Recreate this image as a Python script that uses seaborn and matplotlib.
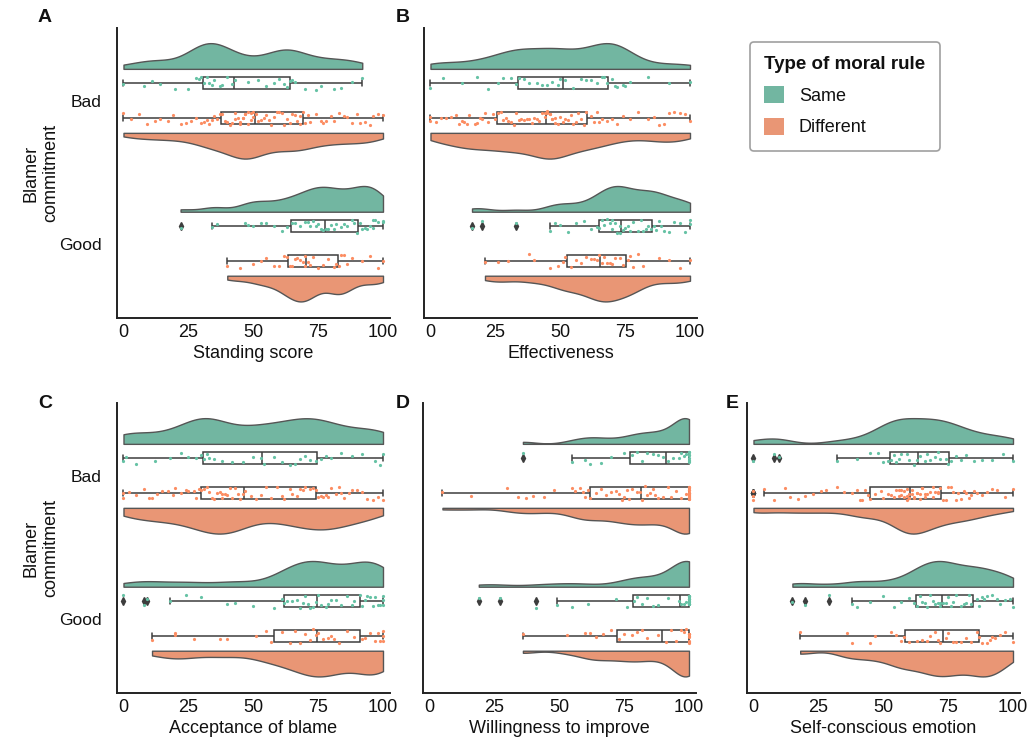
import numpy as np
import pandas as pd
import matplotlib
matplotlib.use("Agg")
import matplotlib.pyplot as plt
import seaborn as sns
from matplotlib.transforms import Affine2D
from matplotlib.patches import Patch

# ---------------- data ----------------
commitment = ["Bad", "Good"]
rule_types = ["Same", "Different"]
measures = ["Standing score", "Effectiveness", "Acceptance of blame",
            "Willingness to improve", "Self-conscious emotion"]
panel_letters = ["A", "B", "C", "D", "E"]
x_ticks = [0, 25, 50, 75, 100]

standing_bad_same = [0, 8, 11, 14, 20, 25, 28, 29, 30, 31, 32, 33, 34, 35, 37, 38, 40, 42,
                     43, 48, 52, 55, 58, 60, 62, 63, 64, 65, 66, 70, 74, 76, 81, 84, 88, 92]
standing_bad_diff = [0, 3, 6, 9, 12, 14, 17, 19, 22, 24, 26, 28, 30, 31, 32, 33, 34, 35, 36, 37,
                     38, 39, 40, 41, 42, 43, 43, 44, 45, 45, 46, 46, 47, 47, 48, 48, 49, 49, 50, 50,
                     51, 52, 53, 54, 55, 56, 57, 58, 59, 60, 61, 62, 63, 64, 65, 66, 67, 68, 68, 69,
                     70, 71, 72, 74, 76, 77, 78, 80, 81, 83, 85, 86, 88, 90, 91, 93, 95, 96, 98, 100]
standing_good_same = [22, 34, 36, 47, 48, 50, 53, 55, 58, 61, 63, 65, 66, 68, 70, 71, 72, 73, 74, 75, 76, 77,
                      78, 79, 80, 81, 82, 84, 85, 86, 88, 89, 90, 91, 92, 93, 94, 95, 96, 96, 97, 98, 100, 100]
standing_good_diff = [40, 45, 50, 53, 55, 58, 60, 62, 63, 64, 65, 66, 67, 68, 69, 70, 70,
                      71, 72, 73, 75, 77, 79, 81, 82, 83, 84, 85, 86, 88, 92, 95, 98, 100]

effect_bad_same = [0, 5, 12, 18, 22, 26, 28, 31, 33, 34, 36, 38, 41, 43, 45, 47, 49, 50,
                   52, 55, 58, 60, 62, 64, 66, 67, 68, 70, 71, 72, 74, 75, 77, 84, 92, 100]
effect_bad_diff = [0, 0, 2, 4, 6, 8, 10, 11, 12, 13, 14, 15, 17, 18, 19, 20, 21, 22, 24, 25,
                   26, 27, 28, 29, 30, 31, 32, 33, 34, 35, 36, 37, 38, 39, 40, 41, 42, 43, 44, 44,
                   45, 45, 46, 46, 47, 47, 48, 48, 49, 50, 51, 52, 53, 54, 55, 56, 57, 58, 59, 60,
                   62, 63, 64, 65, 66, 68, 70, 72, 74, 77, 80, 84, 86, 88, 90, 92, 94, 96, 98, 100]
effect_good_same = [16, 20, 33, 46, 48, 50, 53, 56, 59, 62, 64, 65, 66, 67, 68, 69, 70, 70, 71, 72, 73, 73,
                    74, 75, 76, 77, 78, 80, 81, 82, 83, 84, 85, 86, 87, 88, 89, 90, 92, 94, 96, 98, 100, 100]
effect_good_diff = [21, 26, 30, 38, 40, 46, 49, 51, 52, 54, 56, 58, 60, 62, 63, 64, 65,
                    66, 67, 68, 69, 70, 71, 73, 74, 76, 77, 78, 80, 82, 88, 92, 96, 100]

accept_bad_same = [0, 1, 5, 12, 18, 22, 25, 28, 30, 31, 32, 33, 35, 38, 42, 46, 50, 53,
                   54, 58, 61, 64, 66, 68, 70, 72, 74, 76, 78, 80, 84, 88, 92, 97, 99, 100]
accept_bad_diff = [0, 0, 2, 5, 8, 10, 11, 13, 15, 17, 19, 20, 22, 24, 25, 27, 28, 29,
                   30, 31, 32, 33, 34, 35, 36, 37, 38, 38, 39, 40, 41, 42, 43, 44, 45, 46,
                   47, 49, 51, 53, 55, 57, 59, 61, 62, 64, 65, 67, 68, 69, 70, 72, 73, 74,
                   75, 76, 77, 78, 79, 80, 82, 83, 84, 85, 87, 88, 90, 92, 94, 96, 98, 100]
accept_good_same = [0, 8, 9, 18, 24, 30, 40, 43, 50, 58, 61, 62, 63, 65, 67, 68, 69, 70, 71, 72, 73, 74,
                    75, 76, 78, 79, 80, 82, 84, 86, 88, 89, 91, 92, 93, 94, 95, 96, 97, 98, 99, 100, 100, 100]
accept_good_diff = [11, 20, 20, 27, 37, 40, 51, 55, 57, 61, 64, 66, 68, 70, 72, 73, 74,
                    75, 77, 79, 80, 81, 83, 86, 89, 92, 93, 95, 97, 98, 99, 100, 100, 100]

improve_bad_same = [36, 55, 60, 62, 66, 70, 75, 78, 80, 82, 84, 86, 88, 90,
                    92, 94, 96, 97, 98, 99, 100, 100, 100, 100, 100, 100, 100, 100]
improve_bad_diff = [5, 16, 30, 34, 37, 40, 44, 48, 55, 56, 58, 59, 60, 61,
                    62, 64, 66, 68, 70, 72, 73, 74, 75, 76, 77, 78, 80, 81,
                    82, 83, 84, 85, 86, 87, 88, 90, 92, 93, 95, 97, 99, 100,
                    100, 100, 100, 100, 100, 100, 100, 100, 100, 100, 100, 100, 100, 100]
improve_good_same = [19, 27, 41, 49, 55, 61, 72, 76, 79, 80, 82, 84, 86, 88, 92, 96,
                     97, 98, 99, 100, 100, 100, 100, 100, 100, 100, 100, 100, 100, 100, 100, 100]
improve_good_diff = [36, 53, 60, 62, 64, 67, 70, 73, 75, 78, 80, 82, 84, 88,
                     91, 93, 95, 97, 98, 99, 100, 100, 100, 100, 100, 100, 100, 100]

emotion_bad_same = [0, 8, 10, 32, 40, 45, 48, 50, 52, 53, 54, 55, 56, 57, 59, 60, 62, 63,
                    64, 66, 67, 68, 70, 71, 72, 74, 75, 76, 78, 80, 82, 85, 88, 92, 96, 100]
emotion_bad_diff = [0, 0, 0, 4, 8, 12, 14, 17, 20, 23, 26, 28, 32, 35, 38, 40, 41, 42, 43, 44,
                    45, 47, 49, 50, 52, 53, 54, 55, 56, 56, 57, 57, 58, 58, 59, 59, 59, 60, 60, 60,
                    61, 61, 62, 62, 63, 63, 64, 64, 65, 65, 66, 66, 67, 68, 69, 69, 70, 71, 71, 72,
                    73, 74, 75, 76, 77, 78, 79, 80, 81, 82, 83, 84, 85, 86, 88, 90, 92, 94, 97, 100]
emotion_good_same = [15, 20, 29, 38, 40, 45, 50, 54, 57, 60, 62, 63, 64, 65, 66, 67, 68, 69, 70, 71, 72, 72,
                     73, 74, 75, 76, 77, 78, 80, 81, 82, 83, 84, 86, 87, 88, 89, 90, 92, 94, 95, 97, 99, 100]
emotion_good_diff = [18, 36, 38, 45, 47, 53, 55, 57, 58, 60, 63, 65, 67, 68, 70, 71, 72,
                     74, 75, 77, 78, 80, 82, 84, 86, 87, 88, 90, 91, 92, 93, 95, 97, 100]

panel_data = [
    (standing_bad_same, standing_bad_diff, standing_good_same, standing_good_diff),
    (effect_bad_same, effect_bad_diff, effect_good_same, effect_good_diff),
    (accept_bad_same, accept_bad_diff, accept_good_same, accept_good_diff),
    (improve_bad_same, improve_bad_diff, improve_good_same, improve_good_diff),
    (emotion_bad_same, emotion_bad_diff, emotion_good_same, emotion_good_diff),
]


def to_frame(groups):
    rows = []
    labels = [("Bad", "Same"), ("Bad", "Different"), ("Good", "Same"), ("Good", "Different")]
    for vals, (c, r) in zip(groups, labels):
        for v in vals:
            rows.append({"commitment": c, "rule": r, "value": v})
    return pd.DataFrame(rows)


# ---------------- style ----------------
sns.set_theme(style="white")
plt.rcParams["font.family"] = ["Liberation Sans", "DejaVu Sans"]
plt.rcParams["text.color"] = "#111111"
plt.rcParams["axes.labelcolor"] = "#111111"
np.random.seed(3)

set2 = sns.color_palette("Set2")
pal = {"Same": set2[0], "Different": set2[1]}
box_pal = {"Same": "white", "Different": "white"}
line_col = "#3d3d3d"

W, H = 1034, 740
fig = plt.figure(figsize=(W / 100, H / 100), dpi=100)

ax_px = [(117, 28), (424, 28), (117, 403), (423, 403), (747, 403)]
ax_w, ax_h = 273, 290
letter_px = [(45, 17), (403, 17), (45, 403), (403, 403), (732, 403)]

VIOL_OFF = 0.224
BOX_OFF = 0.122

for i, (measure, groups) in enumerate(zip(measures, panel_data)):
    x0, y0 = ax_px[i]
    ax = fig.add_axes([x0 / W, 1 - (y0 + ax_h) / H, ax_w / W, ax_h / H])
    df = to_frame(groups)

    n0 = len(ax.collections)
    sns.violinplot(data=df, x="value", y="commitment", hue="rule",
                   order=commitment, hue_order=rule_types, palette=pal,
                   split=True, inner=None, cut=0, density_norm="width",
                   width=0.36, gap=0, bw_adjust=0.55, linewidth=1.0,
                   linecolor="#555555", legend=False, ax=ax)
    for coll in ax.collections[n0:]:
        fc = coll.get_facecolor()[0]
        off = -VIOL_OFF if fc[1] > fc[0] else VIOL_OFF
        coll.set_transform(Affine2D().translate(0, off) + ax.transData)

    sns.boxplot(data=df, x="value", y="commitment", hue="rule",
                order=commitment, hue_order=rule_types, palette=box_pal,
                width=2 * 2 * BOX_OFF, gap=0.656, dodge=True,
                linecolor=line_col, linewidth=1.1, fliersize=4,
                flierprops=dict(marker="d", markerfacecolor=line_col,
                                markeredgecolor=line_col),
                legend=False, ax=ax)

    for r, off in zip(rule_types, (-BOX_OFF, BOX_OFF)):
        n1 = len(ax.collections)
        sns.stripplot(data=df[df["rule"] == r], x="value", y="commitment",
                      order=commitment, color=pal[r], size=2.3, jitter=0.048,
                      linewidth=0, ax=ax, zorder=4)
        for coll in ax.collections[n1:]:
            coll.set_offsets(coll.get_offsets() + np.array([0, off]))

    ax.set_xlim(-2.5, 102.7)
    ax.set_ylim(1.52, -0.51)
    ax.set_xticks(x_ticks)
    ax.set_xticklabels([str(t) for t in x_ticks])
    ax.set_xlabel(measure, fontsize=13, labelpad=3)
    ax.tick_params(axis="x", length=0, pad=4, labelsize=13, colors="#111111")
    ax.tick_params(axis="y", length=0, pad=11, labelsize=12.5, colors="#111111")
    if i in (0, 2):
        ax.set_ylabel("Blamer\ncommitment", fontsize=13, labelpad=0)
    else:
        ax.set_ylabel("")
        ax.set_yticklabels([])
    for s in ("top", "right"):
        ax.spines[s].set_visible(False)
    for s in ("left", "bottom"):
        ax.spines[s].set_color("#222222")
        ax.spines[s].set_linewidth(1.4)

    lx, ly = letter_px[i]
    fig.text(lx / W, 1 - ly / H, panel_letters[i], fontsize=14,
             fontweight="bold", ha="center", va="center")

vpal = sns.color_palette([pal["Same"], pal["Different"]], desat=0.75)
handles = [Patch(facecolor=vpal[0], edgecolor="none"),
           Patch(facecolor=vpal[1], edgecolor="none")]
leg = fig.legend(handles, rule_types, title="Type of moral rule",
                 loc="upper left", bbox_to_anchor=(750 / W, 1 - 42 / H),
                 borderaxespad=0,
                 fontsize=13, title_fontproperties={"weight": "bold", "size": 13.5},
                 handlelength=1.1, handleheight=1.1, borderpad=0.8,
                 labelspacing=0.7, frameon=True, fancybox=True,
                 edgecolor="#888888", alignment="left")
leg.get_frame().set_linewidth(1.2)

fig.savefig("out.png", dpi=100)
